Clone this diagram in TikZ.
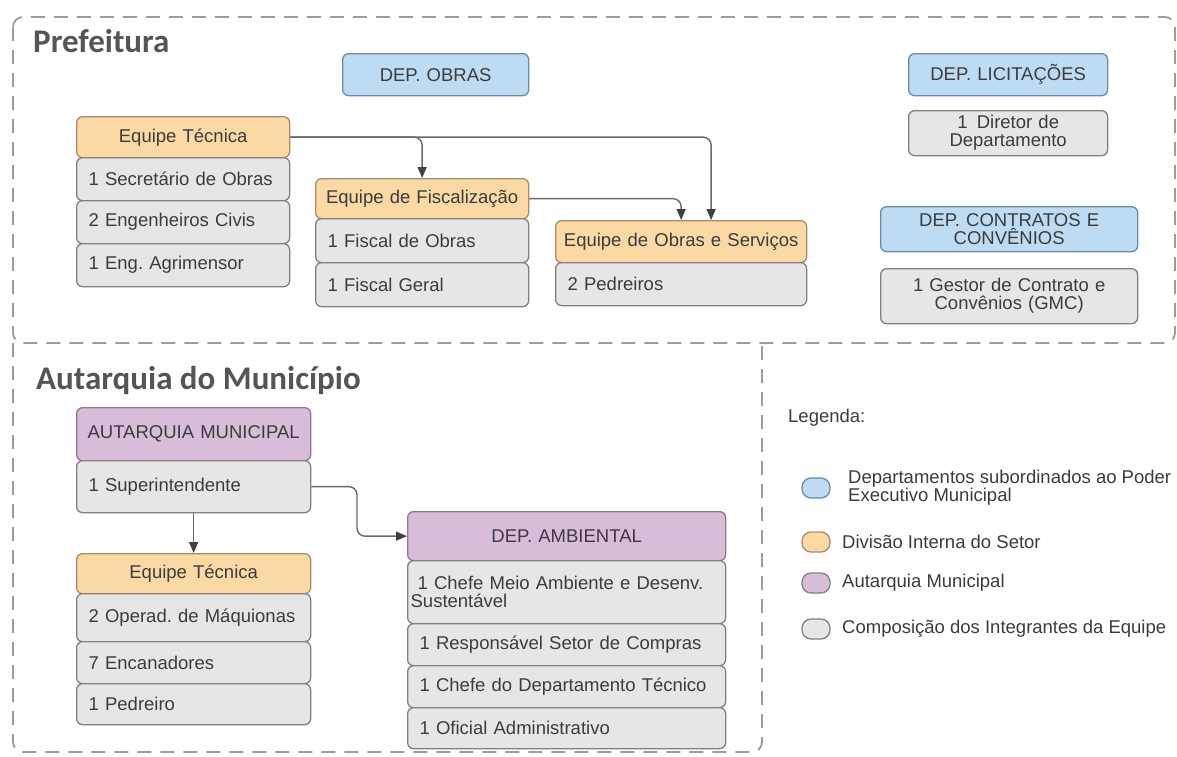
\documentclass[tikz,border=0pt]{standalone}
\usepackage{fontspec}
\setmainfont{Liberation Sans}
\newfontfamily\titlefont{Carlito}
\usetikzlibrary{arrows.meta}
\frenchspacing

\definecolor{bluefill}{HTML}{BDDCF3}
\definecolor{blueline}{HTML}{6F8BA3}
\definecolor{orangefill}{HTML}{FBD9A4}
\definecolor{orangeline}{HTML}{A88C6A}
\definecolor{purplefill}{HTML}{D7BDD8}
\definecolor{purpleline}{HTML}{8C7A8C}
\definecolor{grayfill}{HTML}{E6E6E6}
\definecolor{grayline}{HTML}{808080}
\definecolor{frameline}{HTML}{9C9C9C}
\definecolor{txt}{HTML}{3C3C3C}
\definecolor{titletxt}{HTML}{555555}
\definecolor{arrowline}{HTML}{6A6A6A}

\tikzset{
  x=1pt, y=-1pt,
  cellbase/.style={rectangle, rounded corners=6pt, line width=1.3pt, anchor=north west,
    inner ysep=0pt, font=\fontsize{18.5}{18}\selectfont, text=txt},
  bluebox/.style={cellbase, fill=bluefill, draw=blueline},
  orangebox/.style={cellbase, fill=orangefill, draw=orangeline},
  purplebox/.style={cellbase, fill=purplefill, draw=purpleline},
  graybox/.style={cellbase, fill=grayfill, draw=grayline},
  frame/.style={draw=frameline, line width=1.8pt, dash pattern=on 14pt off 9pt, rounded corners=10pt},
  conn/.style={draw=arrowline, line width=1.4pt, rounded corners=8pt,
    -{Triangle[length=11pt,width=9pt,fill=black!75,color=black!75]}},
  sectiontitle/.style={anchor=base west, inner sep=0pt, text=titletxt, font=\titlefont\bfseries\fontsize{33}{33}\selectfont},
  legswatch/.style={rectangle, rounded corners=9pt, line width=1.3pt, minimum width=28pt, minimum height=20pt, inner sep=0pt},
  legtext/.style={anchor=west, inner sep=0pt, align=left, text=txt, font=\fontsize{18.5}{18}\selectfont},
}

% header cell, text centred: name, style, x1, y1, x2, y2, text
\newcommand\hdrcell[7]{%
  \node[#2, align=center, inner xsep=3pt, minimum width={#5-#3}, minimum height={#6-#4},
    text width={#5-#3-6}] (#1) at (#3,#4) {#7};}
% member cell, text flush left: name, style, x1, y1, x2, y2, text
\newcommand\membercell[7]{%
  \node[#2, align=left, inner xsep=12pt, minimum width={#5-#3}, minimum height={#6-#4},
    text width={#5-#3-24}] (#1) at (#3,#4) {#7};}

\begin{document}
\begin{tikzpicture}
\useasboundingbox (0,0) rectangle (1177,756);

% section frames; the lower one shares its top edge with the upper one
\draw[frame] (13,17) rectangle (1175,343);
\draw[frame] (13,343) -- (13,752) -- (762,752) -- (762,343);

\node[sectiontitle] (tpref) at (33,52) {Prefeitura};
\node[sectiontitle] (taut) at (36,389) {Autarquia do Município};

% Prefeitura
\hdrcell{dobras}{bluebox}{342}{53}{528}{95}{DEP. OBRAS}

\hdrcell{et1}{orangebox}{76}{116}{289}{157}{Equipe Técnica}
\membercell{et1a}{graybox}{76}{157}{289}{200}{1 Secretário de Obras}
\membercell{et1b}{graybox}{76}{200}{289}{243}{2 Engenheiros Civis}
\membercell{et1c}{graybox}{76}{243}{289}{286}{1 Eng. Agrimensor}

\hdrcell{fisc}{orangebox}{315}{178}{528}{218}{Equipe de Fiscalização}
\membercell{fisca}{graybox}{315}{218}{528}{262}{1 Fiscal de Obras}
\membercell{fiscb}{graybox}{315}{262}{528}{306}{1 Fiscal Geral}

\hdrcell{obr}{orangebox}{555}{220}{806}{262}{Equipe de Obras e Serviços}
\membercell{obra}{graybox}{555}{262}{806}{305}{2 Pedreiros}

\hdrcell{dlic}{bluebox}{908}{53}{1107}{95}{DEP. LICITAÇÕES}
\hdrcell{dlica}{graybox}{908}{110}{1107}{155}{1\, Diretor de\\Departamento}

\hdrcell{dcon}{bluebox}{880}{206}{1137}{251}{DEP. CONTRATOS E\\CONVÊNIOS}
\hdrcell{dcona}{graybox}{880}{268}{1137}{323}{1 Gestor de Contrato e\\Convênios (GMC)}

\draw[conn] (et1.east) -| (fisc.north);
\draw[conn] (et1.east) -| ([xshift=30pt]obr.north);
\draw[conn] (fisc.east) -| (obr.north);

% Autarquia
\hdrcell{aut}{purplebox}{76}{407}{310}{460}{AUTARQUIA MUNICIPAL}
\membercell{sup}{graybox}{76}{460}{310}{512}{1 Superintendente}

\hdrcell{et2}{orangebox}{76}{553}{310}{593}{Equipe Técnica}
\membercell{et2a}{graybox}{76}{593}{310}{641}{2 Operad. de Máquionas}
\membercell{et2b}{graybox}{76}{641}{310}{683}{7 Encanadores}
\membercell{et2c}{graybox}{76}{683}{310}{724}{1 Pedreiro}

\hdrcell{amb}{purplebox}{407}{511}{725}{560}{DEP. AMBIENTAL}
\node[graybox, align=left, inner xsep=3pt, minimum width=318pt, minimum height=63pt,
  text width=312pt] (amba) at (407,560) {\hspace*{7pt}1 Chefe Meio Ambiente e Desenv.\\Sustentável};
\membercell{ambb}{graybox}{407}{623}{725}{665}{1 Responsável Setor de Compras}
\membercell{ambc}{graybox}{407}{665}{725}{707}{1 Chefe do Departamento Técnico}
\membercell{ambd}{graybox}{407}{707}{725}{748}{1 Oficial Administrativo}

\draw[conn] (sup.south) -- (et2.north);
\draw[conn] (sup.east) -| ([xshift=-50pt]amb.west) -- (amb.west);

% legend
\node[legtext] (legtitle) at (788,418) {Legenda:};
\node[legswatch, fill=bluefill, draw=blueline] (lg1) at (816,488) {};
\node[legswatch, fill=orangefill, draw=orangeline] (lg2) at (816,542) {};
\node[legswatch, fill=purplefill, draw=purpleline] (lg3) at (816,583) {};
\node[legswatch, fill=grayfill, draw=grayline] (lg4) at (816,629) {};
\node[legtext] (lt1) at (848,488) {Departamentos subordinados ao Poder\\Executivo Municipal};
\node[legtext] (lt2) at (842,542) {Divisão Interna do Setor};
\node[legtext] (lt3) at (842,583) {Autarquia Municipal};
\node[legtext] (lt4) at (842,629) {Composição dos Integrantes da Equipe};
\end{tikzpicture}
\end{document}
